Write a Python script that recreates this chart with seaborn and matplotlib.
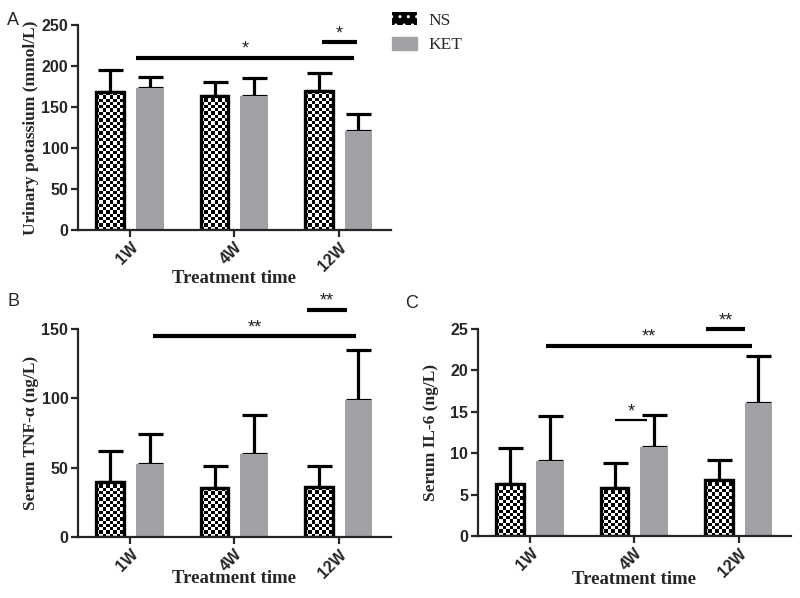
import numpy as np
import pandas as pd
import matplotlib
matplotlib.use('Agg')
import matplotlib.pyplot as plt
import seaborn as sns
from matplotlib.patches import Patch, Rectangle

# ---- data (mean, SD) ----
weeks = ['1W', '4W', '12W']
groups = ['NS', 'KET']

potassium_ns = [168, 164, 169]
potassium_ns_sd = [27, 17, 22]
potassium_ket = [173, 163, 121]
potassium_ket_sd = [14, 22, 20]

tnf_ns = [40, 35, 36]
tnf_ns_sd = [22, 16, 15]
tnf_ket = [53, 60, 99]
tnf_ket_sd = [21, 28, 36]

il6_ns = [6.3, 5.8, 6.8]
il6_ns_sd = [4.3, 3.0, 2.4]
il6_ket = [9.0, 10.7, 16.0]
il6_ket_sd = [5.5, 3.9, 5.7]

# significance brackets: (x start, x end, y, label)
sig_a = [(0.06, 2.15, 210, '*'), (1.84, 2.18, 229, '*')]
sig_b = [(0.22, 2.17, 145, '**'), (1.70, 2.08, 164, '**')]
sig_c = [(0.15, 2.13, 23, '**'), (0.81, 1.12, 14, '*'), (1.69, 2.06, 25, '**')]

GRAY = '#a2a2a6'
SANS = 'Liberation Sans'
SERIF = 'Liberation Serif'

sns.set_style('ticks')
plt.rcParams['font.family'] = [SANS, 'DejaVu Sans']


def checker(ax, p):
    # fill an NS bar with a black/white checkerboard
    x0, y0 = p.get_x(), p.get_y()
    w, h = p.get_width(), p.get_height()
    (px0, py0), (px1, py1) = ax.transData.transform([(x0, y0), (x0 + w, y0 + h)])
    nx = max(1, int(round((px1 - px0) / 3.3)))
    ny = max(1, int(round((py1 - py0) / 3.3)))
    board = np.indices((ny, nx)).sum(axis=0) % 2
    im = ax.imshow(board, cmap='gray', extent=(x0, x0 + w, y0, y0 + h), origin='lower',
                   aspect='auto', interpolation='nearest', zorder=2.1)
    im.set_clip_path(p)
    ax.add_patch(Rectangle((x0, y0), w, h, fill=False, edgecolor='black',
                           linewidth=2.4, zorder=2.2))


def panel(ax, ns, ns_sd, ket, ket_sd, ymax, ystep, ylabel, sig, xlab_y):
    df = pd.DataFrame({'week': weeks * 2,
                       'group': ['NS'] * 3 + ['KET'] * 3,
                       'value': ns + ket})
    sd = {'NS': ns_sd, 'KET': ket_sd}
    sns.barplot(data=df, x='week', y='value', hue='group', order=weeks, hue_order=groups,
                palette={'NS': 'white', 'KET': GRAY}, width=0.76, gap=0.3,
                saturation=1, errorbar=None, legend=False, linewidth=0, ax=ax, zorder=2)
    ax.set_xlim(-0.5, 2.5)
    ax.set_ylim(0, ymax)

    bars = sorted(ax.patches, key=lambda p: p.get_x())
    ns_bars = bars[0::2]
    ket_bars = bars[1::2]
    for g, bl in (('NS', ns_bars), ('KET', ket_bars)):
        xs = [p.get_x() + p.get_width() / 2 for p in bl]
        tops = [p.get_height() for p in bl]
        ax.errorbar(xs, tops, yerr=[np.zeros(3), sd[g]], fmt='none', ecolor='black',
                    elinewidth=2.3, capsize=9, capthick=2.3, zorder=1.5)
    for p in ns_bars:
        checker(ax, p)
    ax.set_xlim(-0.5, 2.5)
    ax.set_ylim(0, ymax)

    for x1, x2, y, lab in sig:
        lw = 1.6 if (x2 - x1) < 0.35 and lab == '*' and ymax < 100 else 3
        ax.plot([x1, x2], [y, y], color='black', lw=lw, clip_on=False, zorder=3,
                solid_capstyle='butt')
        ax.annotate(lab, xy=((x1 + x2) / 2, y), xytext=(0, 6), textcoords='offset points',
                    ha='center', va='center', fontsize=13, color='#222222',
                    annotation_clip=False)

    ax.set_yticks(np.arange(0, ymax + 0.1, ystep))
    ax.tick_params(axis='both', direction='out', length=5, width=1.6, labelsize=11.5, pad=2)
    for t in ax.get_yticklabels() + ax.get_xticklabels():
        t.set_fontweight('bold')
        t.set_fontfamily(SANS)
    plt.setp(ax.get_xticklabels(), rotation=45, ha='right', rotation_mode='anchor')
    sns.despine(ax=ax)
    for s in ('left', 'bottom'):
        ax.spines[s].set_linewidth(1.6)
    ax.set_ylabel(ylabel, fontfamily=SERIF, fontweight='bold', fontsize=12.5)
    ax.set_xlabel('Treatment time', fontfamily=SERIF, fontweight='bold', fontsize=13.5, va='top')
    ax.yaxis.set_label_coords(-0.125, 0.5)
    ax.xaxis.set_label_coords(0.5, xlab_y)
    ax.grid(False)


fig = plt.figure(figsize=(8, 5.98), dpi=100)
ax_a = fig.add_axes([0.0975, 0.6154, 0.391, 0.3428])
ax_b = fig.add_axes([0.0975, 0.1020, 0.391, 0.3478])
ax_c = fig.add_axes([0.5975, 0.1037, 0.391, 0.3462])

panel(ax_a, potassium_ns, potassium_ns_sd, potassium_ket, potassium_ket_sd, 250, 50,
      'Urinary potassium (mmol/L)', sig_a, -0.195)
panel(ax_b, tnf_ns, tnf_ns_sd, tnf_ket, tnf_ket_sd, 150, 50,
      'Serum TNF-α (ng/L)', sig_b, -0.16)
panel(ax_c, il6_ns, il6_ns_sd, il6_ket, il6_ket_sd, 25, 5,
      'Serum IL-6 (ng/L)', sig_c, -0.17)

fig.text(0.009, 0.965, 'A', fontsize=13, va='center')
fig.text(0.009, 0.495, 'B', fontsize=13, va='center')
fig.text(0.507, 0.493, 'C', fontsize=13, va='center')

handles = [Patch(facecolor='black', edgecolor='white', hatch='..', linewidth=0, label='NS'),
           Patch(facecolor=GRAY, edgecolor=GRAY, label='KET')]
fig.legend(handles=handles, loc='upper left', bbox_to_anchor=(0.471, 1.006), frameon=False,
           prop={'family': SERIF, 'size': 12.5}, handlelength=1.4, handleheight=0.8,
           labelspacing=0.45, handletextpad=0.65)

fig.savefig('out.png', dpi=100)
